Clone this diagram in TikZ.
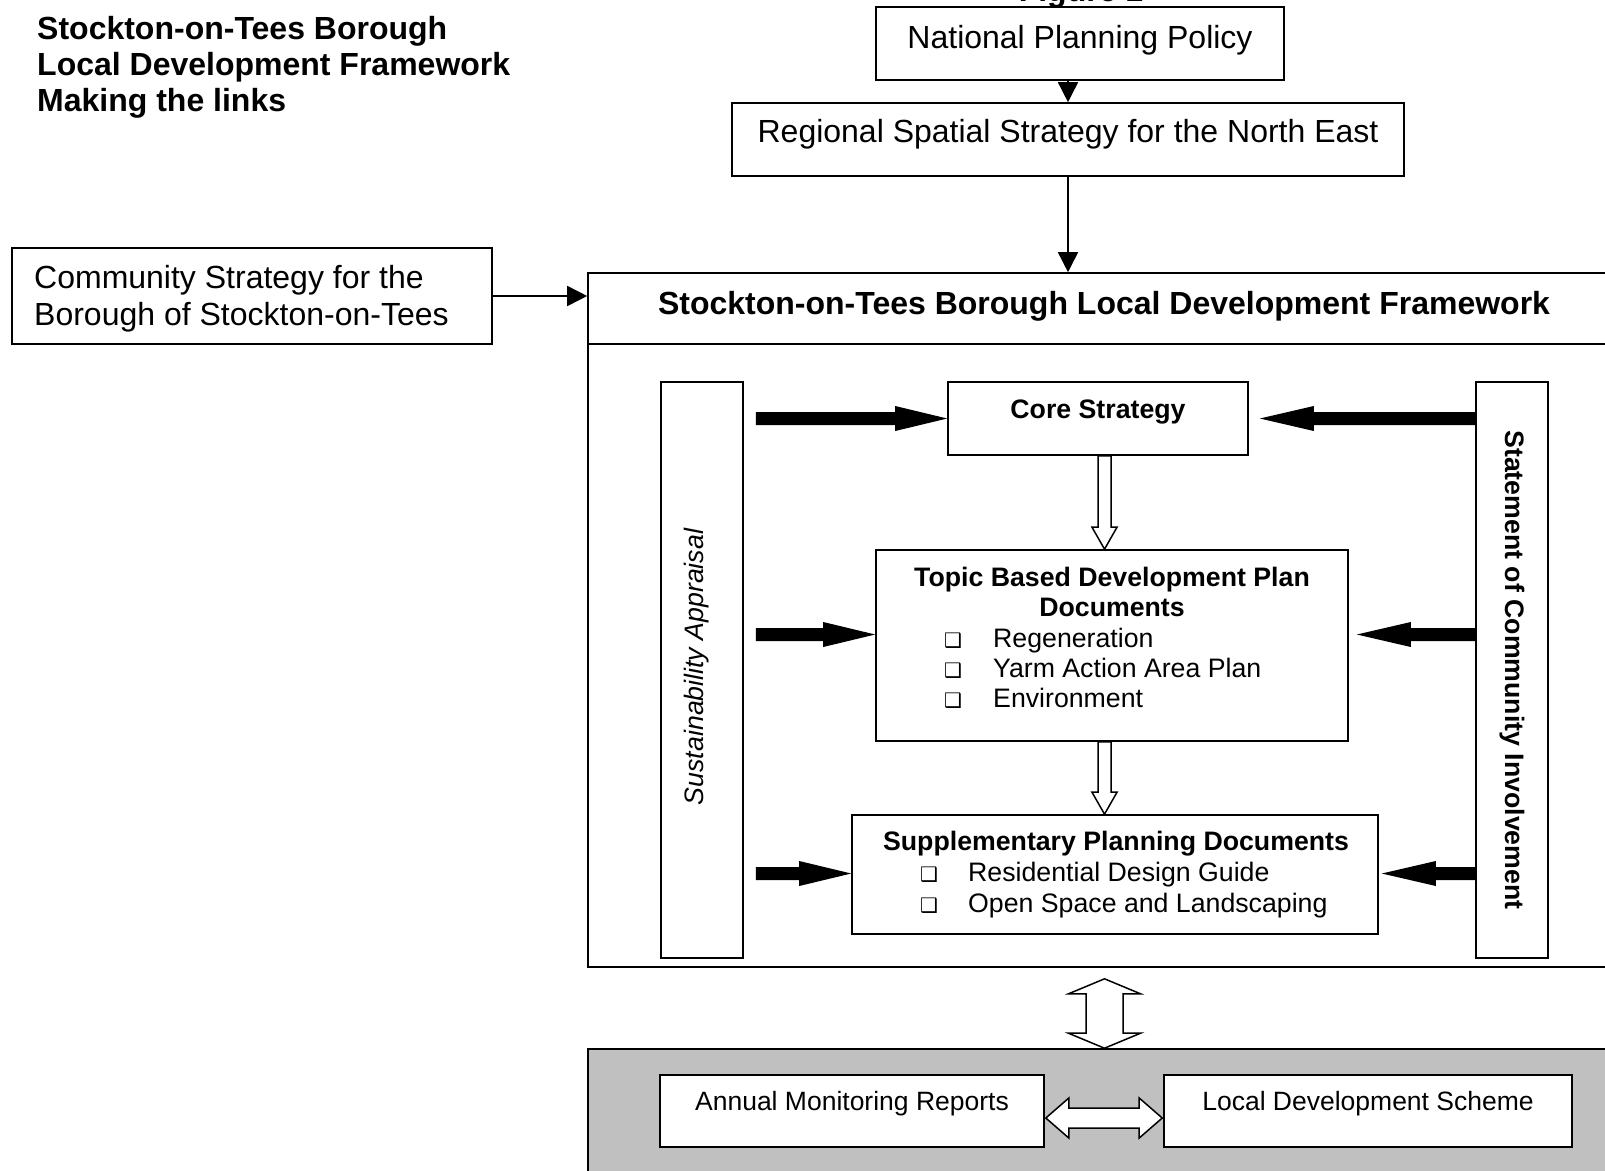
\documentclass[tikz,border=0pt]{standalone}
\usepackage{fontspec}
\setmainfont{Liberation Sans}
\newfontfamily\symf{DejaVu Sans}
\usetikzlibrary{arrows.meta,calc}
\definecolor{panel}{RGB}{192,192,192}
% block arrow with one head: #1 style, #2 from, #3 to, #4 shaft half width, #5 head half width, #6 head length
\newcommand\blkarrow[6]{%
  \path (#2) coordinate (ba-s) (#3) coordinate (ba-e);
  \path ($(ba-e)!#6!(ba-s)$) coordinate (ba-b);
  \path[#1] ($(ba-s)!#4!90:(ba-e)$) -- ($(ba-b)!#4!-90:(ba-s)$) -- ($(ba-b)!#5!-90:(ba-s)$) -- (ba-e)
    -- ($(ba-b)!#5!90:(ba-s)$) -- ($(ba-b)!#4!90:(ba-s)$) -- ($(ba-s)!#4!-90:(ba-e)$) -- cycle;}
% block arrow with two heads
\newcommand\dblkarrow[6]{%
  \path (#2) coordinate (ba-s) (#3) coordinate (ba-e);
  \path ($(ba-e)!#6!(ba-s)$) coordinate (ba-b) ($(ba-s)!#6!(ba-e)$) coordinate (ba-a);
  \path[#1] (ba-s) -- ($(ba-a)!#5!90:(ba-e)$) -- ($(ba-a)!#4!90:(ba-e)$) -- ($(ba-b)!#4!-90:(ba-s)$)
    -- ($(ba-b)!#5!-90:(ba-s)$) -- (ba-e) -- ($(ba-b)!#5!90:(ba-s)$) -- ($(ba-b)!#4!90:(ba-s)$)
    -- ($(ba-a)!#4!-90:(ba-e)$) -- ($(ba-a)!#5!-90:(ba-e)$) -- cycle;}
\begin{document}
\begin{tikzpicture}[x=1pt,y=-1pt,
  box/.style={draw, line width=1.6pt, inner sep=0pt},
  big/.style={inner sep=0pt, font=\fontsize{32}{37}\selectfont},
  bigb/.style={inner sep=0pt, font=\fontsize{32}{37}\selectfont\bfseries},
  small/.style={inner sep=0pt, font=\fontsize{26.7}{30.7}\selectfont},
  smallb/.style={inner sep=0pt, font=\fontsize{26.7}{30.7}\selectfont\bfseries},
  bul/.style={inner sep=0pt, font=\fontsize{20}{22}\selectfont\symf},
  thin/.style={line width=1.6pt, -{Triangle[length=20pt,width=20pt]}},
  fat/.style={fill=black},
  open/.style={draw, fill=white, line width=1.5pt, line join=miter}]
\useasboundingbox (0,0) rectangle (1605,1170);

% title
\node[bigb, anchor=base west] (t1) at (37,39.5) {Stockton-on-Tees Borough};
\node[bigb, anchor=base west] (t2) at (37,75.5) {Local Development Framework};
\node[bigb, anchor=base west] (t3) at (37,111.5) {Making the links};
\node[bigb, anchor=base] (fig) at (1081,1.5) {Figure 1};

% boxes
\node[box, minimum width=408pt, minimum height=73pt] (npp) at (1080,43.5) {};
\node[big, anchor=base] at (1080,48) {National Planning Policy};
\node[box, minimum width=672pt, minimum height=73pt] (rss) at (1068,139.5) {};
\node[big, anchor=base] at (1068,142) {Regional Spatial Strategy for the North East};
\node[box, minimum width=480pt, minimum height=96pt] (comm) at (252,296) {};
\node[big, anchor=base west] at (34,288.5) {Community Strategy for the};
\node[big, anchor=base west] at (34,325.5) {Borough of Stockton-on-Tees};

\node[box, minimum width=1032pt, minimum height=694pt] (ldf) at (1104,620) {};
\node[box, minimum width=1032pt, minimum height=71pt] (ldfhead) at (1104,308.5) {};
\node[bigb, anchor=base] at (1104,314.5) {Stockton-on-Tees Borough Local Development Framework};

\node[box, minimum width=82pt, minimum height=576pt] (sa) at (702,670) {};
\node[small, font=\fontsize{26.7}{30.7}\selectfont\itshape, rotate=90] at (697,667) {Sustainability Appraisal};
\node[box, minimum width=72pt, minimum height=576pt] (st) at (1512,670) {};
\node[smallb, rotate=-90] at (1512,670) {Statement of Community Involvement};

\node[box, minimum width=300pt, minimum height=73pt] (core) at (1098,418.5) {};
\node[smallb, anchor=base] at (1098,418.6) {Core Strategy};

\node[box, minimum width=472pt, minimum height=191pt] (topic) at (1112,645.5) {};
\node[smallb, anchor=base] at (1112,586.6) {Topic Based Development Plan};
\node[smallb, anchor=base] at (1112,616.6) {Documents};
\node[bul, anchor=base] at (953,647.6) {❑};
\node[small, anchor=base west] at (993,647.6) {Regeneration};
\node[bul, anchor=base] at (953,677.6) {❑};
\node[small, anchor=base west] at (993,677.6) {Yarm Action Area Plan};
\node[bul, anchor=base] at (953,707.6) {❑};
\node[small, anchor=base west] at (993,707.6) {Environment};

\node[box, minimum width=526pt, minimum height=119pt] (supp) at (1115,874.5) {};
\node[smallb, anchor=base] at (1116,850.6) {Supplementary Planning Documents};
\node[bul, anchor=base] at (929,881.6) {❑};
\node[small, anchor=base west] at (968,881.6) {Residential Design Guide};
\node[bul, anchor=base] at (929,912.6) {❑};
\node[small, anchor=base west] at (968,912.6) {Open Space and Landscaping};

\node[box, fill=panel, minimum width=1032pt, minimum height=141pt] (gray) at (1104,1119.5) {};
\node[box, fill=white, minimum width=384pt, minimum height=72pt] (annual) at (852,1111) {};
\node[small, font=\fontsize{26.5}{30}\selectfont, anchor=base] at (852,1110.5) {Annual Monitoring Reports};
\node[box, fill=white, minimum width=408pt, minimum height=72pt] (local) at (1368,1111) {};
\node[small, font=\fontsize{26.5}{30}\selectfont, anchor=base] at (1368,1110.5) {Local Development Scheme};

% thin connectors
\draw[thin] (npp.south -| rss.north) -- (rss.north);
\draw[thin] (rss.south) -- (rss.south |- ldf.north);
\draw[thin] (comm.east) -- (comm.east -| ldf.west);

% thick black arrows
\blkarrow{fat}{$(sa.east |- core.west)+(12,0)$}{core.west}{6.5pt}{12.5pt}{52pt}
\blkarrow{fat}{$(sa.east |- topic.west)+(12,-11)$}{$(topic.west)+(0,-11)$}{6.5pt}{12.5pt}{52pt}
\blkarrow{fat}{$(sa.east |- supp.west)+(12,-1)$}{$(supp.west)+(0,-1)$}{6.5pt}{12.5pt}{52pt}
\blkarrow{fat}{st.west |- core.east}{$(core.east)+(11,0)$}{6.5pt}{12.5pt}{54pt}
\blkarrow{fat}{$(st.west |- topic.east)+(0,-11)$}{$(topic.east)+(8,-11)$}{6.5pt}{12.5pt}{54pt}
\blkarrow{fat}{$(st.west |- supp.east)+(0,-1)$}{$(supp.east)+(3,-1)$}{6.5pt}{12.5pt}{54pt}

% open arrows
\coordinate (colx) at (1104.5,0);
\blkarrow{open}{core.south -| colx}{topic.north -| colx}{6.5pt}{12.5pt}{22pt}
\blkarrow{open}{topic.south -| colx}{supp.north -| colx}{6.5pt}{12.5pt}{22pt}
\dblkarrow{open}{$(ldf.south -| colx)+(0,11)$}{gray.north -| colx}{18.5pt}{36pt}{15pt}
\dblkarrow{open}{$(annual.east)+(1,7)$}{$(local.west)+(-1,7)$}{10pt}{20pt}{23pt}
\end{tikzpicture}
\end{document}
